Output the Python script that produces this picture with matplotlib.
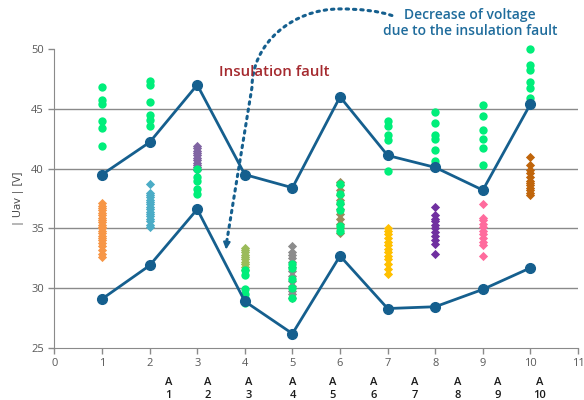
import numpy as np
from matplotlib import pyplot as plt
from matplotlib.path import Path
from matplotlib.patches import PathPatch

plt.rcParams['font.family'] = ['Open Sans', 'DejaVu Sans']

# mean |Uav| lines
pos = [1, 2, 3, 4, 5, 6, 7, 8, 9, 10]
upper = [39.5, 42.2, 47.0, 39.5, 38.4, 46.0, 41.1, 40.1, 38.2, 45.4]
lower = [29.1, 31.9, 36.6, 28.9, 26.2, 32.7, 28.3, 28.45, 29.9, 31.7]

# green measurements per position
green = {
    1: [46.8, 45.7, 45.4, 44.0, 43.4, 41.9],
    2: [47.3, 47.0, 45.6, 44.5, 44.1, 43.6],
    3: [40.0, 39.3, 39.0, 38.3, 37.9, 36.5],
    4: [31.5, 31.1, 29.9, 29.5, 29.2, 28.8],
    5: [32.0, 31.7, 30.8, 30.0, 29.15],
    6: [38.7, 37.9, 37.1, 36.5, 35.2, 34.8],
    7: [43.95, 43.55, 42.8, 42.35, 41.1, 39.8],
    8: [44.75, 43.85, 42.8, 42.45, 41.55, 40.6, 40.3],
    9: [45.3, 44.4, 43.2, 42.5, 41.75, 40.3],
    10: [50.0, 48.7, 48.25, 47.2, 46.7, 45.9],
}

# diamond clusters per position
diam_vals = {
    1: [32.6, 32.9, 33.2, 33.5, 33.8, 34.0, 34.2, 34.4, 34.6, 34.8, 35.0, 35.1,
        35.3, 35.5, 35.7, 35.9, 36.1, 36.3, 36.5, 36.7, 36.9, 37.1],
    2: [35.1, 35.3, 35.6, 35.8, 36.0, 36.2, 36.4, 36.6, 36.8, 37.0, 37.2, 37.4,
        37.6, 37.8, 38.0, 38.7],
    3: [39.9, 40.1, 40.3, 40.5, 40.7, 40.9, 41.1, 41.3, 41.5, 41.7, 41.9],
    4: [31.5, 31.8, 32.0, 32.2, 32.4, 32.6, 32.8, 33.0, 33.2, 33.4],
    5: [29.2, 29.5, 29.8, 30.2, 30.6, 31.0, 31.4, 31.8, 32.2, 32.5, 32.8, 33.0, 33.5],
    6: [34.6, 35.0, 35.4, 35.8, 36.2, 36.6, 37.0, 37.4, 37.8, 38.2, 38.6, 38.9],
    7: [31.2, 31.6, 32.0, 32.4, 32.7, 33.0, 33.3, 33.6, 33.9, 34.2, 34.5, 34.8, 35.0],
    8: [32.9, 33.7, 34.0, 34.4, 34.7, 35.0, 35.3, 35.6, 35.8, 36.1, 36.8],
    9: [32.7, 33.6, 33.9, 34.2, 34.5, 34.8, 35.1, 35.4, 35.7, 35.9, 37.0],
    10: [37.8, 38.0, 38.2, 38.4, 38.6, 38.8, 39.0, 39.3, 39.6, 39.9, 40.3, 41.0],
}
diam_colors = {1: '#f79646', 2: '#4bacc6', 3: '#8064a2', 4: '#9bbb59', 5: '#8c8c8c',
               6: '#998a5c', 7: '#ffc000', 8: '#7030a0', 9: '#ff6b9d', 10: '#c0650b'}

a_labels = ['A\n1', 'A\n2', 'A\n3', 'A\n4', 'A\n5', 'A\n6', 'A\n7', 'A\n8', 'A\n9', 'A\n10']
a_pos = [2.39, 3.23, 4.09, 5.01, 5.85, 6.71, 7.57, 8.48, 9.32, 10.2]

line_col = '#155f8e'
grid_col = '#8a8a8a'

fig = plt.figure(figsize=(5.84, 4.0), dpi=100)
ax = fig.add_axes([0.0932, 0.13, 0.8966, 0.7475])

for y in [30, 35, 40, 45]:
    ax.axhline(y, color=grid_col, lw=1.0, zorder=1)

for k, vals in diam_vals.items():
    ax.scatter([k] * len(vals), vals, marker='D', s=22, color=diam_colors[k],
               linewidths=0, zorder=2)
for k, vals in green.items():
    ax.scatter([k] * len(vals), vals, marker='o', s=36, color='#00ee7a',
               linewidths=0, zorder=3, clip_on=False)

for series in [upper, lower]:
    ax.plot(pos, series, color=line_col, lw=2.0, marker='o', ms=7, zorder=4)

ax.set_xlim(0, 11)
ax.set_ylim(25, 50)
ax.set_xticks(range(0, 12))
ax.set_yticks([25, 30, 35, 40, 45, 50])
for s in ['top', 'right']:
    ax.spines[s].set_visible(False)
for s in ['left', 'bottom']:
    ax.spines[s].set_color(grid_col)
ax.tick_params(colors='#595959', labelsize=8, length=4, width=1, color=grid_col)
ax.set_ylabel('| Uav | [V]', fontsize=8, color='#404040', labelpad=5)

for xp, lab in zip(a_pos, a_labels):
    ax.text(xp, 22.6, lab, ha='center', va='top', fontsize=8, fontweight='semibold',
            color='#1a1a1a', linespacing=1.3)

ax.text(4.61, 48.1, 'Insulation fault', ha='center', va='center', fontsize=10.8,
        fontweight='semibold', color='#a52a2f', zorder=6)
ax.text(8.73, 52.2, 'Decrease of voltage\ndue to the insulation fault', ha='center',
        va='center', fontsize=10, fontweight='semibold', color='#1f6c9c',
        linespacing=1.2, clip_on=False)

# dotted curved arrow
verts = [(7.09, 52.8), (6.8, 53.2), (6.4, 53.35), (6.0, 53.35),
         (4.98, 53.35), (4.15, 50.4), (4.15, 46.8), (3.62, 33.9)]
codes = [Path.MOVETO, Path.CURVE4, Path.CURVE4, Path.CURVE4,
         Path.CURVE4, Path.CURVE4, Path.CURVE4, Path.LINETO]
ax.add_patch(PathPatch(Path(verts, codes), fill=False, color=line_col, lw=2.2,
                       linestyle=(0, (0.8, 1.6)), capstyle='round', clip_on=False,
                       zorder=5))
ax.annotate('', xy=(3.6, 33.0), xytext=(3.625, 34.0),
            arrowprops=dict(arrowstyle='-|>', color=line_col, lw=1.5,
                            mutation_scale=10), annotation_clip=False)

plt.savefig('out.png', dpi=100)
